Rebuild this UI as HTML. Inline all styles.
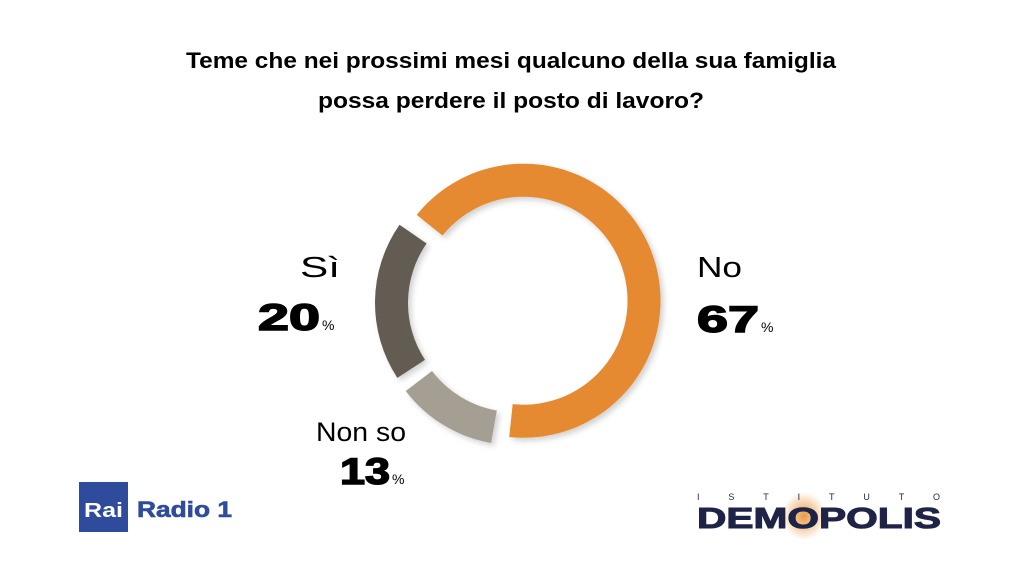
<!DOCTYPE html>
<html><head><meta charset="utf-8"><style>
html,body{margin:0;padding:0;background:#fff;}
svg{display:block;font-family:"Liberation Sans",Arial,sans-serif;}
</style></head><body>
<svg width="1024" height="576" viewBox="0 0 1024 576">
<defs>
<filter id="sh" x="-20%" y="-20%" width="140%" height="140%"><feDropShadow dx="3" dy="3" stdDeviation="3" flood-color="#000" flood-opacity="0.18"/></filter>
<radialGradient id="glow"><stop offset="0" stop-color="#e8902f" stop-opacity="0.9"/><stop offset="1" stop-color="#e8902f" stop-opacity="0"/></radialGradient>
</defs>
<g font-weight="bold" font-size="22" text-anchor="middle" fill="#000">
<text x="511" y="68" textLength="650" lengthAdjust="spacingAndGlyphs">Teme che nei prossimi mesi qualcuno della sua famiglia</text>
<text x="511" y="108" textLength="386" lengthAdjust="spacingAndGlyphs">possa perdere il posto di lavoro?</text>
</g>
<g id="slices" filter="url(#sh)"></g>
<g>
<text x="300" y="277" font-size="29" textLength="40" lengthAdjust="spacingAndGlyphs">Sì</text>
<text x="258" y="330" font-size="37" font-weight="bold" stroke="#000" stroke-width="1.5" textLength="62" lengthAdjust="spacingAndGlyphs">20</text>
<text x="322" y="330" font-size="14">%</text>
</g>
<g>
<text x="697" y="277" font-size="29" textLength="45" lengthAdjust="spacingAndGlyphs">No</text>
<text x="697" y="332" font-size="37" font-weight="bold" stroke="#000" stroke-width="1.5" textLength="62" lengthAdjust="spacingAndGlyphs">67</text>
<text x="761" y="332" font-size="14">%</text>
</g>
<g>
<text x="316" y="441" font-size="27" textLength="90" lengthAdjust="spacingAndGlyphs">Non so</text>
<text x="340" y="484" font-size="37" font-weight="bold" stroke="#000" stroke-width="1.5" textLength="50" lengthAdjust="spacingAndGlyphs">13</text>
<text x="392" y="484" font-size="14">%</text>
</g>
<g>
<rect x="79" y="482" width="49" height="50" fill="#2f4b9c"/>
<text x="84" y="517" font-size="20" font-weight="bold" fill="#fff" textLength="39" lengthAdjust="spacingAndGlyphs">Rai</text>
<text x="137" y="517" font-size="22" font-weight="bold" fill="#2f4b9c" stroke="#2f4b9c" stroke-width="0.6" textLength="95" lengthAdjust="spacingAndGlyphs">Radio 1</text>
</g>
<g>
<ellipse cx="804" cy="516" rx="22" ry="24" fill="url(#glow)"/>
<text x="697" y="500" font-size="9" fill="#1f2447" textLength="243" lengthAdjust="spacing">ISTITUTO</text>
<text x="697" y="528" font-size="29" font-weight="bold" fill="#1f2447" stroke="#1f2447" stroke-width="1" textLength="244" lengthAdjust="spacingAndGlyphs">DEMOPOLIS</text>
</g>
</svg>
<script>
const categories = ["No", "Non so", "Sì"];
const values = [67, 13, 20];
const colors = ["#e68a33", "#a59e93", "#625b53"];
const endOfFirst = 188;
const cx = 518, cy = 303, rOut = 137, rIn = 104, explode = 6, gapDeg = 2;
const g = document.getElementById('slices');
const total = values.reduce((a,b)=>a+b,0);
function pt(r, deg, ox, oy){ const a=(deg-90)*Math.PI/180; return [ox+r*Math.cos(a), oy+r*Math.sin(a)]; }
let ang = endOfFirst - values[0]/total*360;
values.forEach((v,i)=>{
  const span = v/total*360;
  const a0 = ang + gapDeg, a1 = ang + span - gapDeg, mid = ang + span/2;
  const [ox, oy] = pt(explode, mid, cx, cy);
  const large = (a1-a0) > 180 ? 1 : 0;
  const p1 = pt(rOut,a0,ox,oy), p2 = pt(rOut,a1,ox,oy), p3 = pt(rIn,a1,ox,oy), p4 = pt(rIn,a0,ox,oy);
  const d = `M${p1[0]},${p1[1]} A${rOut},${rOut} 0 ${large} 1 ${p2[0]},${p2[1]} L${p3[0]},${p3[1]} A${rIn},${rIn} 0 ${large} 0 ${p4[0]},${p4[1]} Z`;
  const p = document.createElementNS('http://www.w3.org/2000/svg','path');
  p.setAttribute('d', d);
  p.setAttribute('fill', colors[i]);
  
  
  g.appendChild(p);
  ang += span;
});
</script>
</body></html>
